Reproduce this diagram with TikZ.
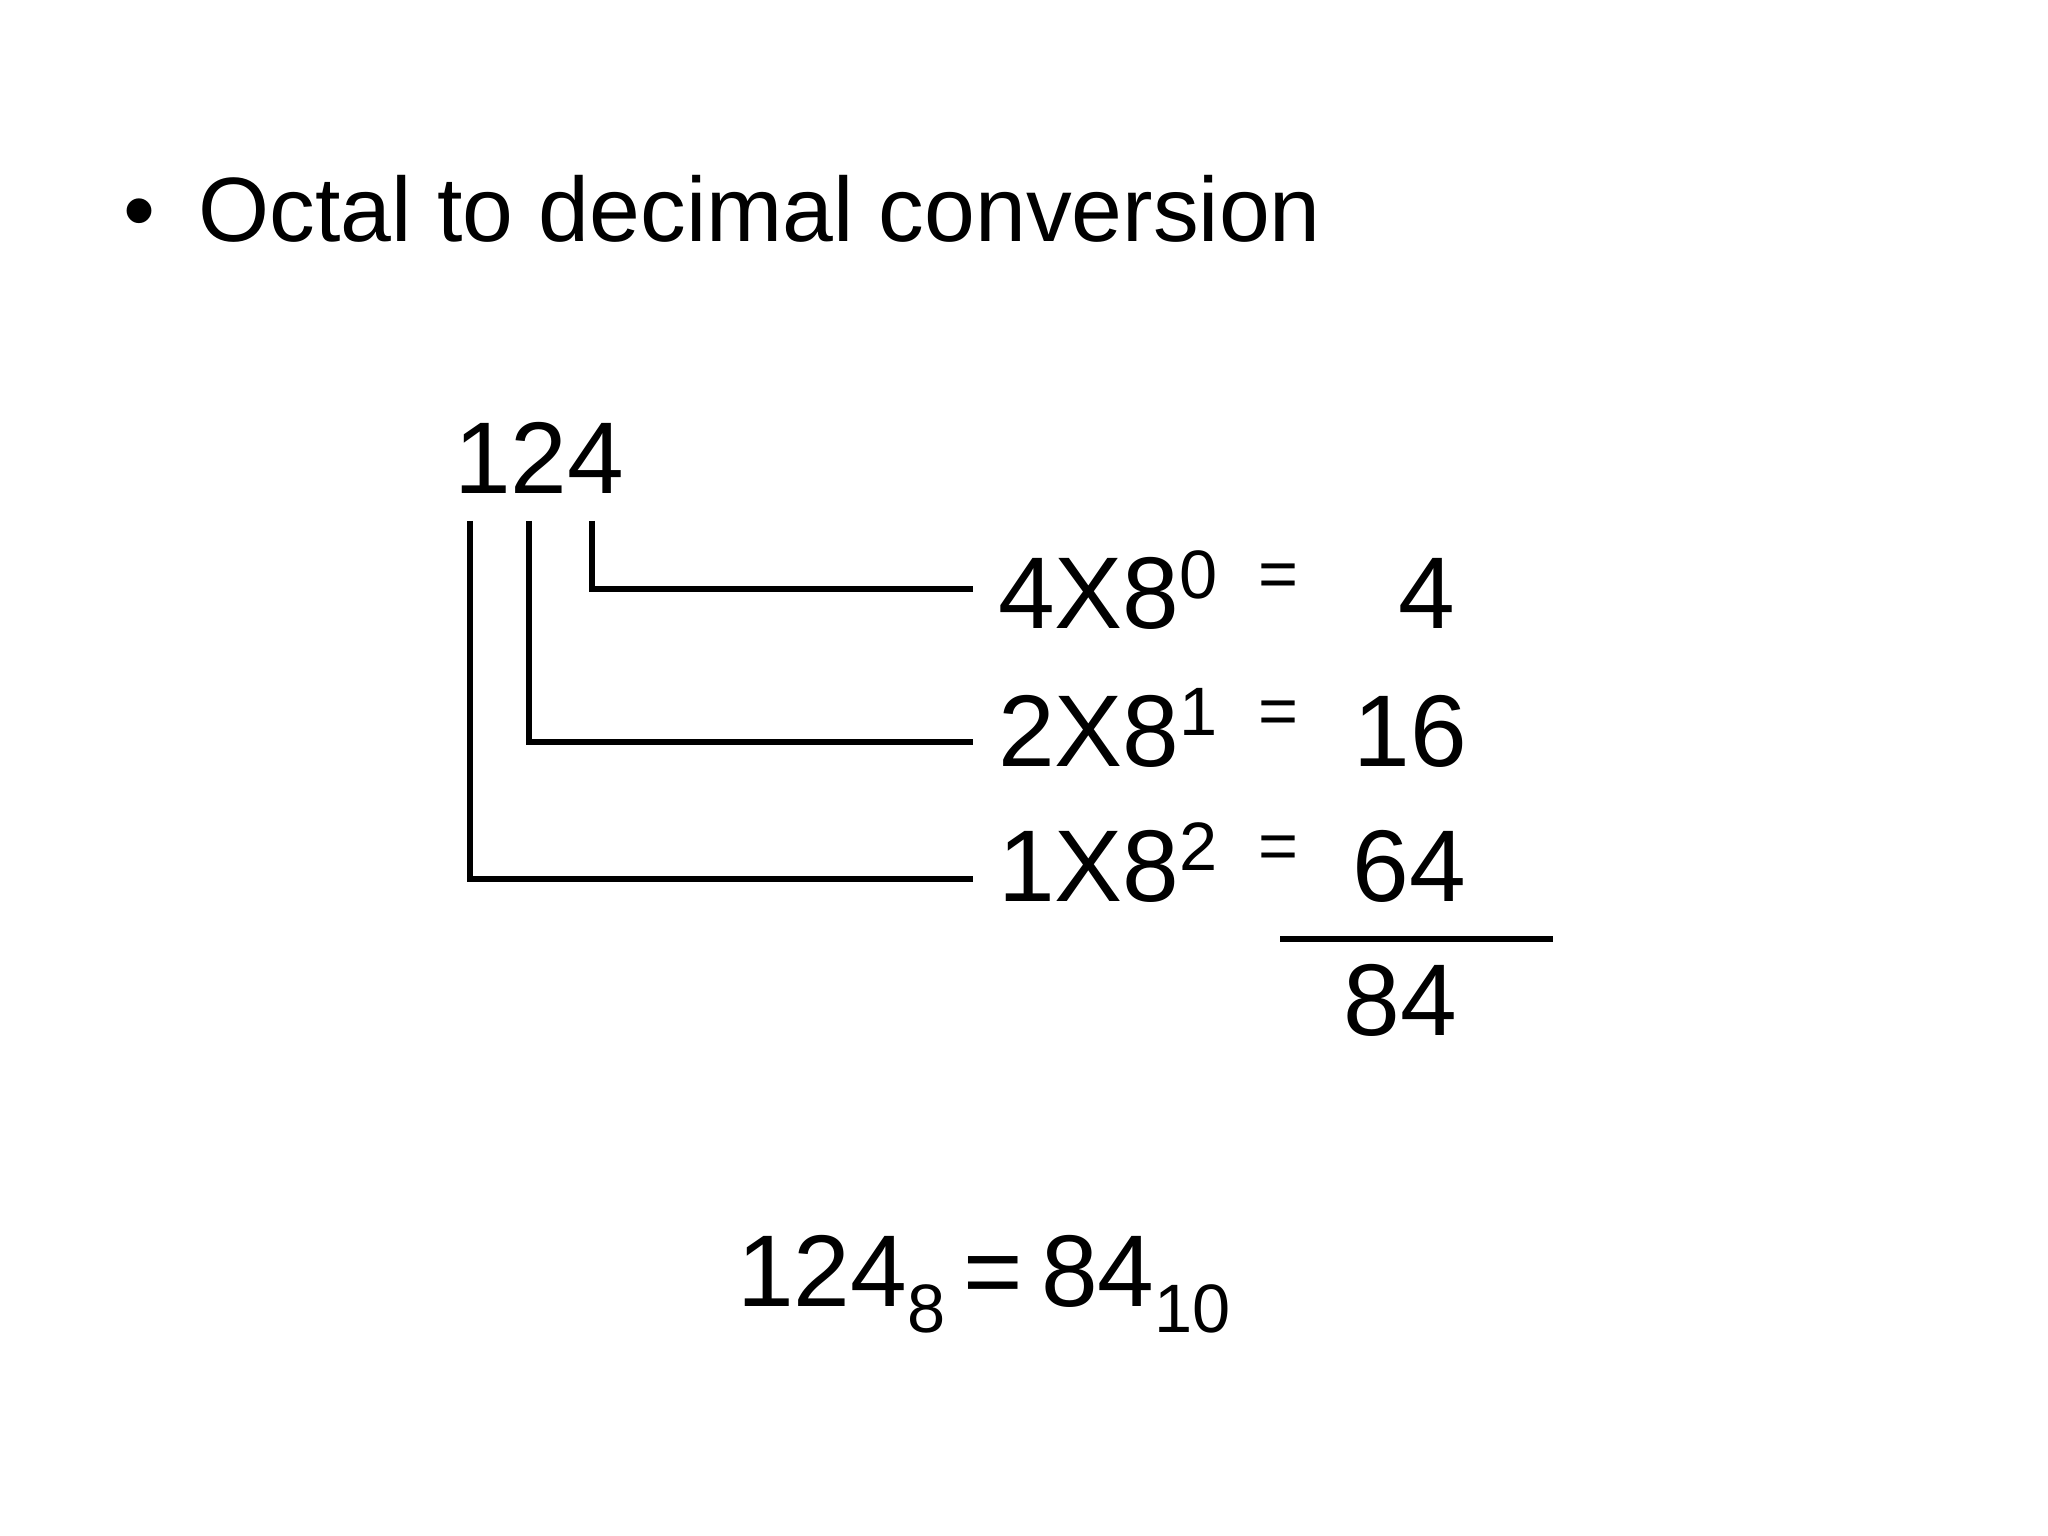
\documentclass[tikz,border=0pt]{standalone}
\usepackage{fontspec}
\setmainfont{Liberation Sans}
\newcommand{\upidx}[1]{\raisebox{8.8pt}{\fontsize{19.5pt}{20pt}\selectfont #1}}
\newcommand{\lowidx}[1]{\raisebox{-7.4pt}{\fontsize{19.5pt}{20pt}\selectfont #1}}
\begin{document}
\begin{tikzpicture}[
	txt/.style={inner sep=0pt, outer sep=0pt, font=\fontsize{29pt}{34pt}\selectfont},
	idx/.style={inner sep=0pt, outer sep=0pt, font=\fontsize{19.5pt}{20pt}\selectfont},
	head/.style={inner sep=0pt, outer sep=0pt, font=\fontsize{26pt}{30pt}\selectfont},
	wire/.style={line width=1.45pt}]
	\useasboundingbox (0,0) rectangle (20.48,-15.36);

	\node[head, anchor=base]      (bullet) at (1.39,-2.42)  {•};
	\node[head, anchor=base west] (title)  at (1.985,-2.42) {Octal to decimal conversion};

	\node[txt, anchor=base west] (num) at (4.54,-4.94) {124};

	\node[txt, anchor=base west] (e0) at (9.98,-6.29) {4X8\upidx{0}};
	\node[txt, anchor=base west] (e1) at (9.98,-7.66) {2X8\upidx{1}};
	\node[txt, anchor=base west] (e2) at (9.98,-9.01) {1X8\upidx{2}};

	\node[idx, anchor=base west] (q0) at (12.58,-5.98) {=};
	\node[idx, anchor=base west] (q1) at (12.58,-7.35) {=};
	\node[idx, anchor=base west] (q2) at (12.58,-8.70) {=};

	\node[txt, anchor=base east] (v0)  at (14.555,-6.29) {4};
	\node[txt, anchor=base east] (v1)  at (14.67,-7.66)  {16};
	\node[txt, anchor=base east] (v2)  at (14.66,-9.01)  {64};
	\node[txt, anchor=base east] (sum) at (14.57,-10.35) {84};

	\node[txt, anchor=base west] (result) at (7.37,-13.06) {124\lowidx{8}\hspace{5.3pt}=\hspace{5.1pt}84\lowidx{10}};

	\coordinate (t0) at (5.92,-5.21);
	\coordinate (t1) at (5.29,-5.21);
	\coordinate (t2) at (4.70,-5.21);
	\coordinate (tip0) at (9.73,-5.89);
	\coordinate (tip1) at (9.73,-7.42);
	\coordinate (tip2) at (9.73,-8.79);
	\coordinate (r0) at (12.80,-9.39);
	\coordinate (r1) at (15.53,-9.39);

	\draw[wire] (t0) |- (tip0);
	\draw[wire] (t1) |- (tip1);
	\draw[wire] (t2) |- (tip2);
	\draw[line width=1.7pt] (r0) -- (r1);
\end{tikzpicture}
\end{document}
